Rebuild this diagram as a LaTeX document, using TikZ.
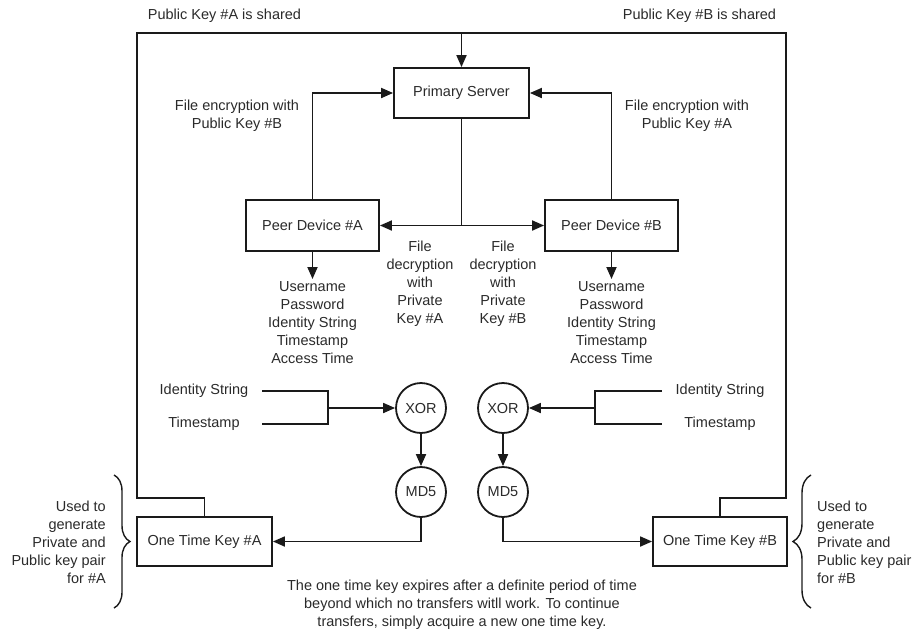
\documentclass[tikz,border=0pt]{standalone}
\usepackage{fontspec}
\setmainfont{Liberation Sans}
\usetikzlibrary{arrows.meta,decorations.pathreplacing}
\definecolor{ink}{HTML}{1A1A1A}
\definecolor{txt}{HTML}{2A2A2A}
\begin{document}
\begin{tikzpicture}[x=1pt,y=-1pt,
  every node/.style={text=txt,font=\fontsize{14.5}{18}\selectfont,inner sep=2pt},
  line/.style={draw=ink,line width=1.8pt},
  arr/.style={line,-{Triangle[length=12pt,width=10pt]}},
  box/.style={draw=ink,line width=1.8pt,minimum height=50pt,inner sep=0pt},
  gate/.style={circle,draw=ink,line width=1.8pt,minimum size=50pt,inner sep=0pt},
  lines/.style={align=center},
  tag/.style={minimum width=116pt,inner sep=0pt},
  brc/.style={draw=ink,line width=1.4pt,decorate,decoration={brace,amplitude=#1}}]
\useasboundingbox (0,0) rectangle (913,633);

% boxes
\node[box,minimum width=135pt] (server) at (461.5,93) {Primary Server};
\node[box,minimum width=133pt,minimum height=51pt] (peerA) at (312.5,225.5) {Peer Device \#A};
\node[box,minimum width=133pt,minimum height=51pt] (peerB) at (611.5,225.5) {Peer Device \#B};
\node[box,minimum width=135pt,minimum height=49pt] (otkA) at (204.5,541.5) {One Time Key \#A};
\node[box,minimum width=134pt,minimum height=49pt] (otkB) at (720,541.5) {One Time Key \#B};

% hash stages
\node[gate] (xorA) at (421,408) {XOR};
\node[gate] (xorB) at (503,408) {XOR};
\node[gate] (md5A) at (421,492) {MD5};
\node[gate] (md5B) at (503,492) {MD5};

% labels
\node (shareA) at (224.5,16) {Public Key \#A is shared};
\node (shareB) at (699.5,16) {Public Key \#B is shared};
\node[lines] (encA) at (237,116) {File encryption with\\Public Key \#B};
\node[lines] (encB) at (687,116) {File encryption with\\Public Key \#A};
\node[lines] (decA) at (420,284) {File\\decryption\\with\\Private\\Key \#A};
\node[lines] (decB) at (503,284) {File\\decryption\\with\\Private\\Key \#B};
\node[lines,anchor=north] (infoA) at (312.5,279) {Username\\Password\\Identity String\\Timestamp\\Access Time};
\node[lines,anchor=north] (infoB) at (611.5,279) {Username\\Password\\Identity String\\Timestamp\\Access Time};
\node[tag] (idA) at (204,391) {Identity String};
\node[tag] (tsA) at (204,424) {Timestamp};
\node[tag] (idB) at (720,391) {Identity String};
\node[tag] (tsB) at (720,424) {Timestamp};
\node[align=right,anchor=east] (useA) at (108,542) {Used to\\generate\\Private and\\Public key pair\\for \#A};
\node[align=left,anchor=west] (useB) at (815,542) {Used to\\generate\\Private and\\Public key pair\\for \#B};
\node[lines] (note) at (462,605) {The one time key expires after a definite period of time\\beyond which no transfers witll work. To continue\\transfers, simply acquire a new one time key.};

% frame that shares the public keys
\coordinate (cornA) at (137,498);
\coordinate (topL) at (137,33);
\coordinate (topR) at (786,33);
\coordinate (cornB) at (786,498);
\draw[line] (otkA.north) |- (cornA) -- (topL) -- (topR) -- (cornB) -| (otkB.north);
\draw[arr] (server.north |- topL) -- (server.north);

% encryption and decryption paths
\draw[arr] (peerA.north) |- (server.west);
\draw[arr] (peerB.north) |- (server.east);
\coordinate (split) at (server.south |- peerA.east);
\draw[line] (server.south) -- (split);
\draw[arr] (split) -- (peerA.east);
\draw[arr] (split) -- (peerB.west);
\draw[arr] (peerA.south) -- (infoA.north);
\draw[arr] (peerB.south) -- (infoB.north);

% XOR inputs
\coordinate (joinA) at (328,408);
\coordinate (joinB) at (595,408);
\draw[line] (idA.east) -| (joinA) |- (tsA.east);
\draw[arr] (joinA) -- (xorA.west);
\draw[line] (idB.west) -| (joinB) |- (tsB.west);
\draw[arr] (joinB) -- (xorB.east);

% hashing to one time keys
\draw[arr] (xorA) -- (md5A);
\draw[arr] (xorB) -- (md5B);
\draw[arr] (md5A.south) |- (otkA.east);
\draw[arr] (md5B.south) |- (otkB.west);

% braces
\coordinate (bAt) at (114,475);
\coordinate (bAb) at (114,608);
\coordinate (bBt) at (811,475);
\coordinate (bBb) at (811,608);
\draw[brc=16pt] (bAt) -- (bAb);
\draw[brc=18pt] (bBb) -- (bBt);
\end{tikzpicture}
\end{document}
